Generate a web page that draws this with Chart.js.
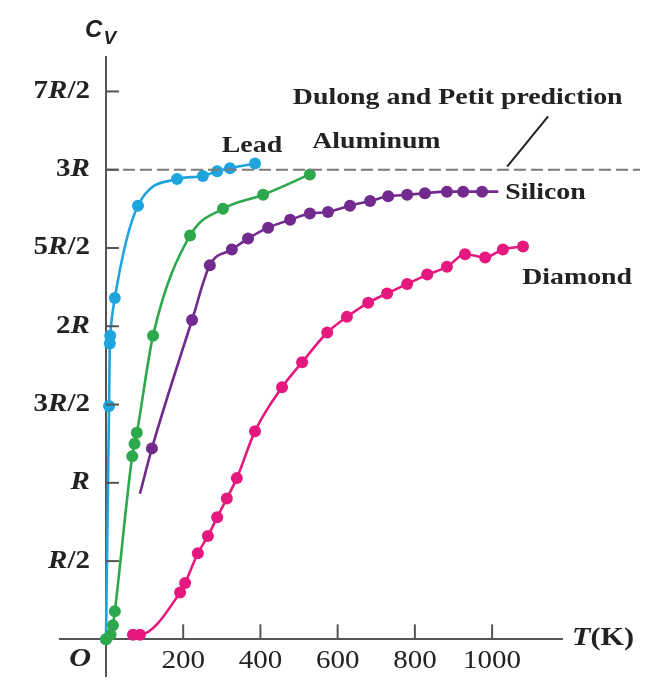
<!DOCTYPE html>
<html lang="en">
<head>
  <meta charset="UTF-8">
  <title>Molar heat capacity vs temperature</title>
  <script src="https://cdn.jsdelivr.net/npm/chart.js"></script>
  <style>
    html, body { margin: 0; padding: 0; background: #fff; }
    #wrap { width: 657px; height: 682px; position: relative; }
  </style>
</head>
<body>
  <div id="wrap"><canvas id="cvChart"></canvas></div>

  <script>
    // temperatures in K, heat capacity in units of R
    const leadT = [0, 8, 10, 11, 23, 83, 184, 251, 288, 321, 386];
    const leadCv = [0, 1.49, 1.89, 1.94, 2.18, 2.77, 2.94, 2.96, 2.99, 3.01, 3.04];

    const aluminumT = [0, 12, 18, 23, 68, 74, 80, 122, 218, 303, 407, 528];
    const aluminumCv = [0, 0.03, 0.09, 0.18, 1.17, 1.25, 1.32, 1.94, 2.58, 2.75, 2.84, 2.97];

    const siliconT = [88, 119, 223, 269, 326, 368, 420, 477, 528, 575, 632, 684, 731, 780, 826, 883, 925, 974, 1016];
    const siliconCv = [0.93, 1.22, 2.04, 2.39, 2.49, 2.56, 2.63, 2.68, 2.72, 2.73, 2.77, 2.80, 2.83, 2.84, 2.85, 2.86, 2.86, 2.86, 2.86];

    const diamondT = [70, 88, 192, 205, 238, 264, 288, 313, 339, 386, 456, 508, 573, 624, 679, 728, 780, 832, 883, 930, 982, 1028, 1080];
    const diamondCv = [0.03, 0.03, 0.30, 0.36, 0.55, 0.66, 0.78, 0.90, 1.03, 1.33, 1.61, 1.77, 1.96, 2.06, 2.15, 2.21, 2.27, 2.33, 2.38, 2.46, 2.44, 2.49, 2.51];

    const dulongPetitT = [0, 1383];
    const dulongPetitCv = [3, 3];

    const xTickValues = [200, 400, 600, 800, 1000];
    const yTickValues = [0.5, 1, 1.5, 2, 2.5, 3, 3.5];
    const yTickLabels = ["R/2", "R", "3R/2", "2R", "5R/2", "3R", "7R/2"];

    const axisColor = "#555";
    const serif = '"Liberation Serif", "DejaVu Serif", serif';
    const stretch = 1.16;

    const zip = (xs, ys) => xs.map((x, i) => ({ x: x, y: ys[i] }));

    // text notes placed in data units
    const notes = [
      { text: "Lead", x: 300, y: 3.15 },
      { text: "Aluminum", x: 534, y: 3.18 },
      { text: "Dulong and Petit prediction", x: 484, y: 3.46 },
      { text: "Silicon", x: 1034, y: 2.85 },
      { text: "Diamond", x: 1078, y: 2.31 }
    ];

    function series(label, color, xs, ys, hideEnds) {
      return {
        label: label,
        data: zip(xs, ys),
        borderColor: color,
        backgroundColor: color,
        borderWidth: 2.6,
        pointRadius: ctx => (hideEnds && (ctx.dataIndex === 0 || ctx.dataIndex === xs.length - 1)) ? 0 : 6,
        pointBorderWidth: 0,
        cubicInterpolationMode: "monotone",
        clip: false
      };
    }

    function drawRich(ctx, parts, x, y, align, size, weight) {
      let w = 0;
      parts.forEach(p => {
        ctx.font = (p.it ? "italic " : "") + weight + " " + size + "px " + serif;
        w += ctx.measureText(p.t).width;
      });
      ctx.save();
      ctx.translate(x, y);
      ctx.scale(stretch, 1);
      let cx = align === "right" ? -w : align === "center" ? -w / 2 : 0;
      ctx.textAlign = "left";
      ctx.textBaseline = "middle";
      parts.forEach(p => {
        ctx.font = (p.it ? "italic " : "") + weight + " " + size + "px " + serif;
        ctx.fillText(p.t, cx, 0);
        cx += ctx.measureText(p.t).width;
      });
      ctx.restore();
    }

    function splitR(label) {
      const parts = [];
      label.split(/(R)/).forEach(s => { if (s) parts.push({ t: s, it: s === "R" }); });
      return parts;
    }

    const annotations = {
      id: "annotations",
      afterDatasetsDraw(chart) {
        const ctx = chart.ctx;
        const xs = chart.scales.x, ys = chart.scales.y;
        const x0 = xs.getPixelForValue(0), y0 = ys.getPixelForValue(0);
        ctx.save();
        ctx.fillStyle = "#222";
        ctx.strokeStyle = axisColor;
        ctx.lineWidth = 2;

        // inward tick marks
        yTickValues.forEach(v => {
          const y = ys.getPixelForValue(v);
          ctx.beginPath(); ctx.moveTo(x0, y); ctx.lineTo(x0 + 13, y); ctx.stroke();
        });
        xTickValues.forEach(v => {
          const x = xs.getPixelForValue(v);
          ctx.beginPath(); ctx.moveTo(x, y0); ctx.lineTo(x, y0 - 15); ctx.stroke();
        });

        // tick labels
        yTickValues.forEach((v, i) => {
          drawRich(ctx, splitR(yTickLabels[i]), x0 - 16, ys.getPixelForValue(v), "right", 25, "bold");
        });
        xTickValues.forEach(v => {
          drawRich(ctx, [{ t: String(v), it: false }], xs.getPixelForValue(v), y0 + 22, "center", 25, "normal");
        });
        drawRich(ctx, [{ t: "O", it: true }], xs.getPixelForValue(-67), ys.getPixelForValue(-0.13), "center", 26, "bold");

        // axis titles
        drawRich(ctx, [{ t: "T", it: true }, { t: "(K)", it: false }], xs.getPixelForValue(1207), ys.getPixelForValue(0.01), "left", 26, "bold");
        ctx.textBaseline = "middle";
        ctx.textAlign = "left";
        const cx = xs.getPixelForValue(-54), cy = ys.getPixelForValue(3.89);
        ctx.font = 'italic bold 24px "Liberation Sans", Arial, sans-serif';
        ctx.fillText("C", cx, cy);
        const cw = ctx.measureText("C").width;
        ctx.font = 'italic bold 19px "Liberation Sans", Arial, sans-serif';
        ctx.fillText("V", cx + cw + 1, cy + 8);

        // series notes
        notes.forEach(n => {
          drawRich(ctx, [{ t: n.text, it: false }], xs.getPixelForValue(n.x), ys.getPixelForValue(n.y), "left", 24, "bold");
        });

        // leader line to the dashed prediction
        ctx.strokeStyle = "#222";
        ctx.lineWidth = 2;
        ctx.beginPath();
        ctx.moveTo(xs.getPixelForValue(1145), ys.getPixelForValue(3.34));
        ctx.lineTo(xs.getPixelForValue(1039), ys.getPixelForValue(3.02));
        ctx.stroke();
        ctx.restore();
      }
    };

    new Chart(document.getElementById("cvChart"), {
      type: "line",
      data: {
        datasets: [
          {
            label: "Dulong and Petit prediction",
            data: zip(dulongPetitT, dulongPetitCv),
            borderColor: "#7a7a7a",
            borderWidth: 2,
            borderDash: [12, 5],
            pointRadius: 0,
            clip: false
          },
          series("Diamond", "#e4187e", diamondT, diamondCv, false),
          series("Silicon", "#722a8e", siliconT, siliconCv, true),
          series("Aluminum", "#2ea84c", aluminumT, aluminumCv, false),
          series("Lead", "#1ea5de", leadT, leadCv, false)
        ]
      },
      options: {
        responsive: true,
        maintainAspectRatio: false,
        animation: false,
        layout: { padding: { left: 60, right: 95, top: 57, bottom: 0 } },
        plugins: { legend: { display: false }, tooltip: { enabled: false } },
        scales: {
          x: {
            type: "linear",
            position: { y: 0 },
            min: -119,
            max: 1181,
            grid: { display: false },
            ticks: { display: false },
            border: { display: true, color: axisColor, width: 2 }
          },
          y: {
            type: "linear",
            position: { x: 0 },
            min: -0.234,
            max: 3.72,
            grid: { display: false },
            ticks: { display: false },
            border: { display: true, color: axisColor, width: 2 }
          }
        }
      },
      plugins: [annotations]
    });
  </script>
</body>
</html>
